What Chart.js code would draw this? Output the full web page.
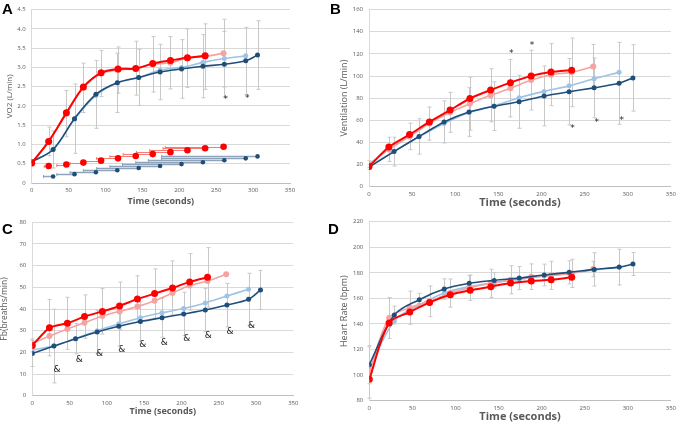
<!DOCTYPE html>
<html>
<head>
<meta charset="utf-8">
<script src="https://cdn.jsdelivr.net/npm/chart.js@4.4.1/dist/chart.umd.min.js"></script>
<style>
  body { margin: 0; background: #fff; }
  #wrap { position: relative; width: 680px; height: 423px; background: #fff; overflow: hidden; }
  canvas { position: absolute; }
  .lbl { position: absolute; font: bold 15px "Liberation Sans", Arial, sans-serif; color: #000; line-height: 15px; }
</style>
</head>
<body>
<div id="wrap">
  <canvas id="cA" width="340" height="210" style="left:0;top:0"></canvas>
  <canvas id="cB" width="340" height="210" style="left:340px;top:0"></canvas>
  <canvas id="cC" width="340" height="213" style="left:0;top:210px"></canvas>
  <canvas id="cD" width="340" height="213" style="left:340px;top:210px"></canvas>
  <div class="lbl" style="left:2px;top:1px">A</div>
  <div class="lbl" style="left:330px;top:1px">B</div>
  <div class="lbl" style="left:2px;top:221px">C</div>
  <div class="lbl" style="left:328px;top:221px">D</div>
</div>
<script>
Chart.defaults.font.family = "Open Sans";

// time points (seconds)
const tRed = [0, 23, 47, 70, 94, 117, 141, 164, 188, 211, 235];
const tPink = [0, 23, 47, 70, 94, 117, 141, 164, 188, 211, 235, 260];
const tNavy = [0, 29, 58, 87, 116, 145, 174, 203, 232, 261, 290, 306];
const tSky = [0, 29, 58, 87, 116, 145, 174, 203, 232, 261, 290];

// A - VO2
const vo2Red = [0.52, 1.08, 1.82, 2.49, 2.86, 2.96, 2.97, 3.10, 3.18, 3.25, 3.30];
const vo2Pink = [0.50, 1.08, 1.80, 2.47, 2.84, 2.93, 2.98, 3.08, 3.12, 3.24, 3.28, 3.37];
const vo2Navy = [0.55, 0.87, 1.67, 2.30, 2.60, 2.74, 2.88, 2.96, 3.03, 3.08, 3.17, 3.32];
const vo2Sky = [0.55, 0.87, 1.66, 2.27, 2.60, 2.74, 2.93, 3.00, 3.13, 3.23, 3.30];
const vo2PinkSd = [0, 0.37, 0.6, 0.64, 0.6, 0.6, 0.7, 0.72, 0.68, 0.76, 0.85, 0.88];
const vo2NavySd = [0, 0.48, 0.9, 0.88, 0.77, 0.73, 0.72, 0.76, 0.82, 0.85, 0.87, 0.89];
const tRedLow = [23, 47, 70, 94, 117, 141, 164, 188, 211, 235, 260];
const vo2RedLow = [0.44, 0.48, 0.53, 0.58, 0.64, 0.70, 0.75, 0.80, 0.85, 0.90, 0.94];
const redLowSdT = [6, 13, 18, 24, 29, 35, 40, 46, 51, 57, 79];
const tNavyLow = [29, 58, 87, 116, 145, 174, 203, 232, 261, 290, 306];
const vo2NavyLow = [0.17, 0.23, 0.28, 0.33, 0.39, 0.44, 0.49, 0.54, 0.59, 0.64, 0.69];
const navyLowSdT = [13, 24, 35, 46, 57, 68, 80, 91, 103, 114, 130];
const starAx = [263, 292];
const starAy = [2.15, 2.18];

// B - ventilation
const veRed = [18.3, 35.8, 47.1, 58.5, 69.2, 79.7, 87.3, 94.0, 100.1, 103.6, 105.3];
const vePink = [20.4, 33.7, 45.4, 57, 67.2, 75, 82.6, 89, 96.3, 101.2, 103.3, 108.5];
const veNavy = [17.7, 31.7, 45.4, 58.5, 67.5, 72.7, 76.8, 82, 85.8, 89.3, 93.4, 98.3];
const veSky = [18, 32, 45, 57, 67, 73, 80.3, 86.1, 91.1, 97.5, 103.3];
const vePinkSd = [3, 11, 12, 15, 18, 24, 24, 26, 27, 28, 31, 20];
const veNavySd = [2, 13, 16, 19, 22, 22, 24, 27, 30, 27, 37, 30];
const starBx = [165, 189, 236, 264, 293];
const starBy = [120, 127, 52.5, 57.5, 59.5];

// C - breathing frequency
const fbRed = [23.2, 31.4, 33.4, 36.5, 38.9, 41.4, 44.6, 47.1, 49.7, 52.5, 54.6];
const fbPink = [24.2, 27.5, 30.8, 33.7, 36.8, 38.9, 41.1, 43.8, 47.4, 50.8, 52.9, 56];
const fbNavy = [19.5, 22.9, 26.3, 29.4, 32, 34.2, 36, 37.7, 39.5, 41.8, 44.5, 48.8];
const fbSky = [21, 23, 26.3, 30, 33.1, 36, 38.3, 40.2, 42.8, 46, 49.1];
const fbRedSd = [3, 13, 12, 10, 10.5, 11, 10.7, 11.4, 12.5, 13, 13.7];
const fbNavySd = [6, 17, 7, 10, 9, 9, 9, 10, 10, 10, 12, 9];
const ampCx = [33, 63, 90, 120, 148, 177, 207, 236, 265, 294];
const ampCy = [11.8, 16.6, 19.2, 21.4, 23.5, 24.6, 26.2, 27.7, 29.5, 32.3];

// D - heart rate
const hrRed = [96.7, 140.7, 149.3, 156.9, 162.9, 166.3, 169.2, 172, 173.6, 174.6, 176.5];
const hrPink = [102, 144.7, 152.7, 157.7, 164.2, 168.4, 171.8, 174.6, 177, 178, 179.6, 183];
const hrNavy = [108.2, 147, 159, 167.3, 171.8, 174.1, 175.9, 178.3, 180.4, 182.7, 184.5, 186.9];
const hrSky = [104.5, 142.3, 154.8, 164.2, 169.2, 172.3, 174.9, 177.5, 179.6, 182.2, 184.3];
const hrPinkSd = [20, 16, 13, 12, 11, 10, 11, 11, 10, 11, 11, 6];
const hrNavySd = [15, 7, 5, 8, 6, 6, 9, 8.5, 9, 13, 14, 9];

const RED = "#ff0000";
const PINK = "#f4a3a0";
const NAVY = "#1f4e79";
const SKY = "#9dc3e6";

function pts(t, v) {
  return t.map((x, i) => ({ x: x, y: v[i] }));
}

function line(t, v, color, r, w, order, tension, extra) {
  return Object.assign({
    data: pts(t, v),
    borderColor: color,
    backgroundColor: color,
    pointBackgroundColor: color,
    pointBorderColor: color,
    pointRadius: r,
    pointBorderWidth: 0,
    borderWidth: w,
    tension: tension,
    order: order,
  }, extra || {});
}

// grey error bars + horizontal time bars + text marks (* and &)
const errorBars = {
  id: "errorBars",
  beforeDatasetsDraw(chart) {
    const { ctx, scales: { x, y } } = chart;
    ctx.save();
    chart.data.datasets.forEach((ds) => {
      if (ds.errY) {
        ctx.strokeStyle = "#c8c8c8";
        ctx.lineWidth = 1;
        ds.data.forEach((p, i) => {
          const e = ds.errY[i];
          if (!e) return;
          const px = Math.round(x.getPixelForValue(p.x)) + 0.5;
          const top = y.getPixelForValue(p.y + e);
          const bot = y.getPixelForValue(p.y - e);
          ctx.beginPath();
          ctx.moveTo(px, top); ctx.lineTo(px, bot);
          ctx.moveTo(px - 2, top); ctx.lineTo(px + 2, top);
          ctx.moveTo(px - 2, bot); ctx.lineTo(px + 2, bot);
          ctx.stroke();
        });
      }
      if (ds.errXMinus) {
        ds.data.forEach((p, i) => {
          const e = ds.errXMinus[i];
          const py = Math.round(y.getPixelForValue(p.y)) + 0.5;
          const x0 = x.getPixelForValue(p.x - e);
          const x1 = x.getPixelForValue(p.x);
          ctx.strokeStyle = ds.barColor;
          ctx.lineWidth = ds.barWidth;
          ctx.beginPath();
          ctx.moveTo(x0, py); ctx.lineTo(x1, py);
          ctx.stroke();
          ctx.lineWidth = 1;
          ctx.beginPath();
          ctx.moveTo(x0, py - 1.5); ctx.lineTo(x0, py + 1.5);
          ctx.stroke();
        });
      }
    });
    ctx.restore();
  },
  afterDatasetsDraw(chart, args, opts) {
    if (!opts.xs) return;
    const { ctx, scales: { x, y } } = chart;
    ctx.save();
    ctx.fillStyle = "#222";
    ctx.font = opts.font;
    ctx.textAlign = "center";
    ctx.textBaseline = "middle";
    opts.xs.forEach((v, i) => {
      ctx.fillText(opts.text, x.getPixelForValue(v), y.getPixelForValue(opts.ys[i]));
    });
    ctx.restore();
  },
};

function panel(id, box, yOpt, datasets, marks) {
  return new Chart(document.getElementById(id), {
    type: "line",
    data: { datasets: datasets },
    options: {
      responsive: false,
      animation: false,
      devicePixelRatio: 1,
      layout: { padding: { top: box.top, right: box.right, left: 0, bottom: 0 } },
      plugins: {
        legend: { display: false },
        tooltip: { enabled: false },
        errorBars: marks || {},
      },
      scales: {
        x: {
          type: "linear",
          min: 0,
          max: 350,
          ticks: { stepSize: 50, color: "#595959", font: { size: 6 }, padding: 4, maxRotation: 0 },
          grid: { display: false, drawTicks: false },
          border: { color: "#bfbfbf" },
          title: {
            display: true,
            text: "Time (seconds)",
            color: "#595959",
            font: { size: box.xt, weight: "bold" },
            padding: { top: 0, bottom: box.xtPad },
          },
          afterFit: (s) => { s.height = box.xh; },
        },
        y: {
          min: yOpt.min,
          max: yOpt.max,
          ticks: { stepSize: yOpt.step, color: "#595959", font: { size: 6 }, padding: 6 },
          grid: { color: "#d9d9d9", drawTicks: false },
          border: { color: "#d9d9d9" },
          title: {
            display: true,
            text: yOpt.title,
            color: "#595959",
            font: { size: yOpt.ts, lineHeight: 1 },
            padding: { top: yOpt.tp, bottom: yOpt.tp },
          },
          afterFit: (s) => { s.width = box.yw; },
        },
      },
    },
    plugins: [errorBars],
  });
}

// Panel A
panel("cA",
  { top: 4, right: 50, yw: 31.7, xh: 27, xt: 9, xtPad: 3 },
  { min: 0, max: 4.5, step: 0.5, title: "VO2 (L/min)", ts: 8, tp: 6 },
  [
    line(tRed, vo2Red, RED, 3.5, 2, 0, 0.35),
    line(tNavy, vo2Navy, NAVY, 2.5, 1.6, 1, 0.35, { errY: vo2NavySd }),
    line(tPink, vo2Pink, PINK, 3, 1.6, 2, 0.35, { errY: vo2PinkSd }),
    line(tSky, vo2Sky, SKY, 2.5, 1.6, 3, 0.35),
    line(tRedLow, vo2RedLow, RED, 3.3, 0, 4, 0, { showLine: false, errXMinus: redLowSdT, barColor: "#f47c76", barWidth: 1 }),
    line(tNavyLow, vo2NavyLow, NAVY, 2.3, 0, 5, 0, { showLine: false, errXMinus: navyLowSdT, barColor: "#8fa4ba", barWidth: 1.5 }),
  ],
  { xs: starAx, ys: starAy, text: "*", font: "9px 'DejaVu Sans'" }
);

// Panel B
panel("cB",
  { top: 3.3, right: 8.3, yw: 29, xh: 23.3, xt: 11, xtPad: 1 },
  { min: 0, max: 160, step: 20, title: "Ventilation (L/min)", ts: 9, tp: 0 },
  [
    line(tRed, veRed, RED, 3.5, 2, 0, 0.2),
    line(tNavy, veNavy, NAVY, 2.5, 1.6, 1, 0.2, { errY: veNavySd }),
    line(tPink, vePink, PINK, 3, 1.6, 2, 0.2, { errY: vePinkSd }),
    line(tSky, veSky, SKY, 2.5, 1.6, 3, 0.2),
  ],
  { xs: starBx, ys: starBy, text: "*", font: "9px 'DejaVu Sans'" }
);

// Panel C
panel("cC",
  { top: 12.3, right: 46.7, yw: 32.3, xh: 27.3, xt: 9, xtPad: 6 },
  { min: 0, max: 80, step: 10, title: "Fb(breaths/min)", ts: 8.5, tp: 0 },
  [
    line(tRed, fbRed, RED, 3.5, 2, 0, 0.15, { errY: fbRedSd }),
    line(tNavy, fbNavy, NAVY, 2.5, 1.6, 1, 0.3, { errY: fbNavySd }),
    line(tPink, fbPink, PINK, 3, 1.6, 2, 0.15),
    line(tSky, fbSky, SKY, 2.5, 1.6, 3, 0.15),
  ],
  { xs: ampCx, ys: ampCy, text: "&", font: "9px 'DejaVu Sans'" }
);

// Panel D
panel("cD",
  { top: 11.7, right: 8.3, yw: 29.3, xh: 22.3, xt: 11, xtPad: 0 },
  { min: 80, max: 220, step: 20, title: "Heart Rate (bpm)", ts: 9, tp: 0 },
  [
    line(tRed, hrRed, RED, 3.5, 2, 0, 0.35),
    line(tNavy, hrNavy, NAVY, 2.5, 1.6, 1, 0.35, { errY: hrNavySd }),
    line(tPink, hrPink, PINK, 3, 1.6, 2, 0.35, { errY: hrPinkSd }),
    line(tSky, hrSky, SKY, 2.5, 1.6, 3, 0.35),
  ]
);
</script>
</body>
</html>
